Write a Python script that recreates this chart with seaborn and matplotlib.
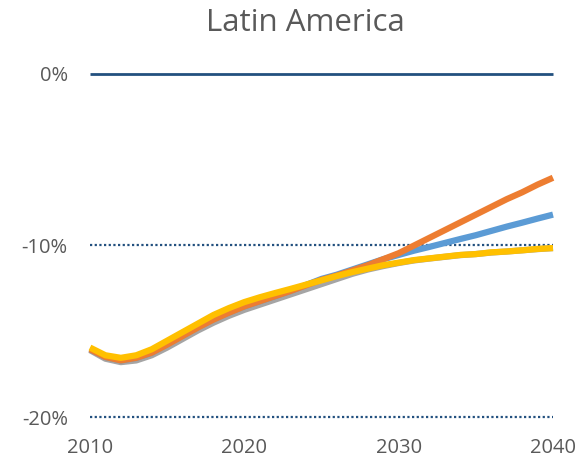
import numpy as np
import pandas as pd
import matplotlib
matplotlib.use("Agg")
import matplotlib.pyplot as plt
import seaborn as sns

years = list(range(2010, 2041))

baseline = [-16.1, -16.6, -16.8, -16.7, -16.4, -15.95, -15.45, -14.95, -14.5, -14.1,
            -13.75, -13.45, -13.15, -12.85, -12.55, -12.25, -11.95, -11.65, -11.4, -11.2,
            -11.02, -10.87, -10.76, -10.66, -10.56, -10.5, -10.41, -10.35, -10.28, -10.21, -10.15]

scenario_blue = [-16.05, -16.5, -16.7, -16.55, -16.25, -15.75, -15.25, -14.75, -14.3, -13.9,
                 -13.55, -13.25, -12.95, -12.65, -12.3, -11.95, -11.7, -11.4, -11.1, -10.8,
                 -10.55, -10.3, -10.08, -9.85, -9.62, -9.4, -9.15, -8.9, -8.67, -8.43, -8.2]

scenario_orange = [-16.05, -16.5, -16.7, -16.55, -16.25, -15.78, -15.28, -14.78, -14.32, -13.92,
                   -13.55, -13.25, -12.95, -12.65, -12.32, -12.0, -11.75, -11.45, -11.15, -10.8,
                   -10.45, -10.0, -9.55, -9.1, -8.65, -8.2, -7.75, -7.3, -6.9, -6.45, -6.05]

scenario_yellow = [-15.95, -16.4, -16.55, -16.4, -16.05, -15.55, -15.05, -14.55, -14.05, -13.65,
                   -13.3, -13.02, -12.77, -12.53, -12.28, -12.03, -11.78, -11.55, -11.35, -11.15,
                   -11.0, -10.85, -10.75, -10.65, -10.55, -10.5, -10.4, -10.35, -10.28, -10.2, -10.15]

series_names = ["baseline", "scenario_blue", "scenario_orange", "scenario_yellow"]
series_colors = ["#A5A5A5", "#5B9BD5", "#ED7D31", "#FFC000"]

y_ticks = [0, -10, -20]
y_tick_labels = ["0%", "-10%", "-20%"]
x_ticks = [2010, 2020, 2030, 2040]
x_tick_labels = ["2010", "2020", "2030", "2040"]

df = pd.DataFrame({
    "year": years * 4,
    "value": baseline + scenario_blue + scenario_orange + scenario_yellow,
    "series": sum([[n] * len(years) for n in series_names], []),
})

sns.set_theme(style="white")
plt.rcParams["font.family"] = ["Open Sans", "DejaVu Sans"]

fig = plt.figure(figsize=(5.85, 4.65), dpi=100)
ax = fig.add_axes([0.1538, 0.1032, 0.7915, 0.7377])

grid_color = "#22507F"
ax.axhline(0, color=grid_color, lw=2.0, zorder=1)
for v in (-10, -20):
    ax.axhline(v, color=grid_color, lw=1.6, ls=(0, (1, 1.1)), zorder=1)

sns.lineplot(data=df, x="year", y="value", hue="series", hue_order=series_names,
             palette=dict(zip(series_names, series_colors)), lw=4.5, ax=ax,
             legend=False, zorder=3)
for line in ax.lines:
    line.set_solid_capstyle("butt")
    line.set_solid_joinstyle("round")
    line.set_clip_on(False)

ax.set_xlim(2010, 2040)
ax.set_ylim(-20, 0)
ax.set_xticks(x_ticks)
ax.set_xticklabels(x_tick_labels)
ax.set_yticks(y_ticks)
ax.set_yticklabels(y_tick_labels)
ax.set_xlabel("")
ax.set_ylabel("")
for s in ax.spines.values():
    s.set_visible(False)
ax.tick_params(axis="both", length=0, labelsize=14.5, labelcolor="#595959")
ax.tick_params(axis="y", pad=16)
ax.tick_params(axis="x", pad=15)

fig.text(0.522, 0.95, "Latin America", ha="center", va="center",
         fontsize=22.5, color="#595959")

fig.savefig("out.png", dpi=100, facecolor="white")
